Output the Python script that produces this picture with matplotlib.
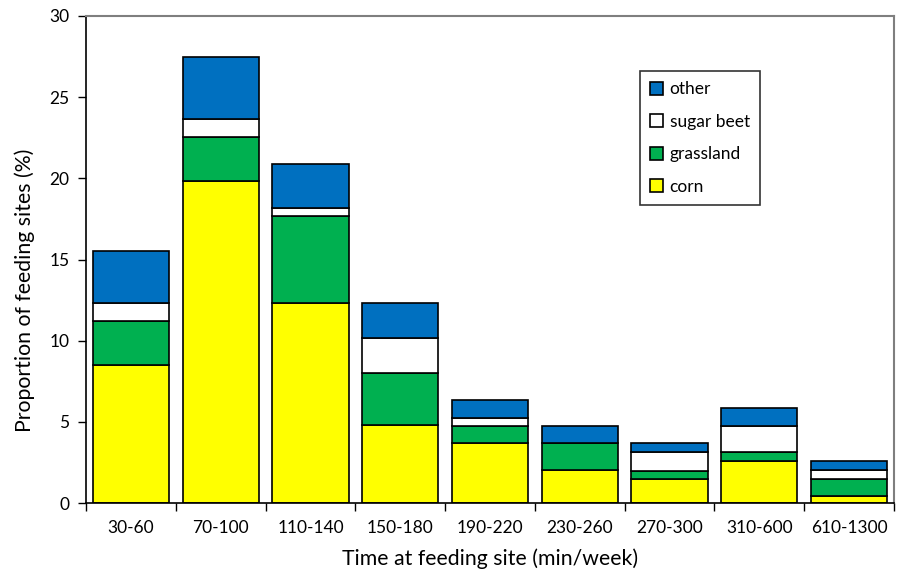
import matplotlib
matplotlib.use("Agg")
import matplotlib.pyplot as plt
import numpy as np
from matplotlib.ticker import FixedLocator

categories = ["30-60", "70-100", "110-140", "150-180", "190-220",
              "230-260", "270-300", "310-600", "610-1300"]
corn = [8.5, 19.85, 12.3, 4.8, 3.7, 2.05, 1.5, 2.6, 0.45]
grassland = [2.7, 2.7, 5.35, 3.2, 1.05, 1.65, 0.5, 0.55, 1.05]
sugar_beet = [1.1, 1.1, 0.55, 2.15, 0.5, 0.0, 1.15, 1.6, 0.55]
other = [3.25, 3.8, 2.7, 2.15, 1.1, 1.05, 0.55, 1.1, 0.55]

series = [("corn", corn, "#FFFF00"), ("grassland", grassland, "#00B050"),
          ("sugar beet", sugar_beet, "#FFFFFF"), ("other", other, "#0070C0")]

plt.rcParams['font.family'] = ['Lato', 'DejaVu Sans']

fig = plt.figure(figsize=(8.99, 5.70), dpi=100)
ax = fig.add_axes([86/899, (570-503)/570, (894-86)/899, (503-16)/570])

x = np.arange(len(categories))
bottom = np.zeros(len(categories))
handles = []
for name, vals, col in series:
    v = np.array(vals)
    b = ax.bar(x, v, 0.85, bottom=bottom, color=col, edgecolor="black",
               linewidth=1.2, label=name)
    handles.append(b)
    bottom += v

ax.set_xlim(-0.5, len(categories) - 0.5)
ax.set_ylim(0, 30)
ax.set_yticks([0, 5, 10, 15, 20, 25, 30])
ax.tick_params(axis='y', direction='out', length=6, width=1, labelsize=12.5, pad=6)
ax.set_xticks(x)
ax.set_xticklabels(categories)
ax.tick_params(axis='x', which='major', length=0, labelsize=12.5, pad=12)
ax.xaxis.set_minor_locator(FixedLocator(np.arange(len(categories) + 1) - 0.5))
ax.tick_params(axis='x', which='minor', direction='out', length=6, width=1)

for s in ['left', 'bottom']:
    ax.spines[s].set_color('black')
    ax.spines[s].set_linewidth(1.2)
for s in ['top', 'right']:
    ax.spines[s].set_color('#7f7f7f')
    ax.spines[s].set_linewidth(1.5)

ax.set_ylabel("Proportion of feeding sites (%)", fontsize=15.3, labelpad=10)
ax.yaxis.set_label_coords(-0.0635, (503-290)/487)
ax.set_xlabel("Time at feeding site (min/week)", fontsize=15.3, labelpad=9)

leg = ax.legend(handles[::-1], [s[0] for s in series][::-1],
                loc='upper left', bbox_to_anchor=((640-86)/808, (503-71)/487),
                frameon=True, fancybox=False, edgecolor='black', fontsize=12.5,
                handlelength=0.75, handleheight=0.75, handletextpad=0.35,
                labelspacing=0.95, borderpad=0.6, borderaxespad=0)
leg.get_frame().set_linewidth(1.2)

fig.savefig("out.png", dpi=100)
